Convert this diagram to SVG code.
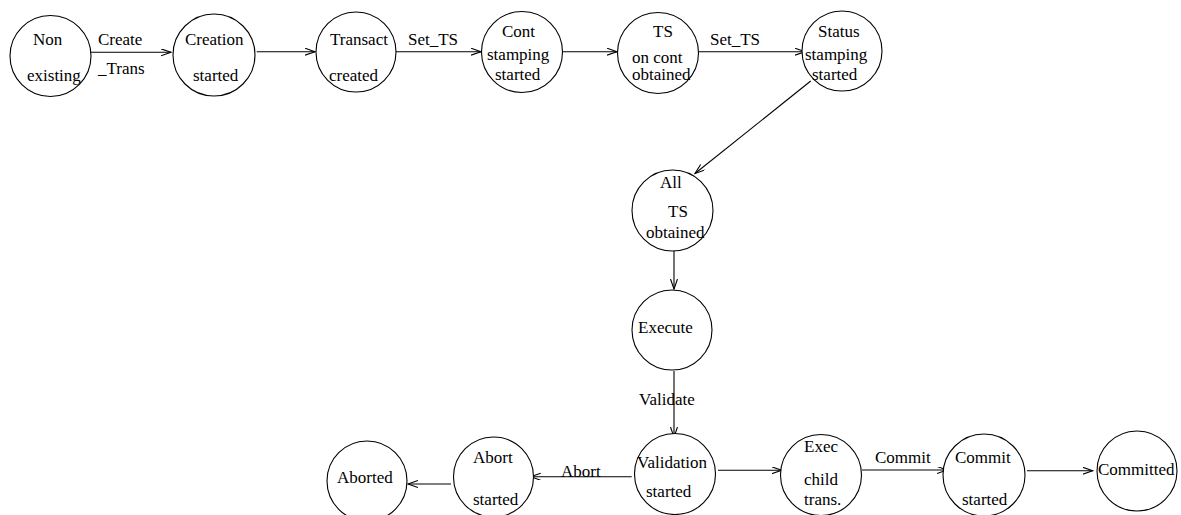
<svg xmlns="http://www.w3.org/2000/svg" width="1181" height="515" viewBox="0 0 1181 515">
<style>
.n{fill:#fff;stroke:#000;stroke-width:1.1}
.e{fill:none;stroke:#000;stroke-width:1.1}
text{font-family:"Liberation Serif","Times New Roman",serif;font-size:17px;fill:#000}
</style>
<defs>
<marker id="ah" markerWidth="12" markerHeight="9" refX="10" refY="3.5" orient="auto" markerUnits="userSpaceOnUse">
<path d="M0,0 L10,3.5 L0,7" fill="none" stroke="#000" stroke-width="1.1"/>
</marker>
</defs>
<rect width="1181" height="515" fill="#fff"/>
<g id="connectors">
<path class="e" d="M90.7,52.3 L171,52.3" marker-end="url(#ah)"/>
<path class="e" d="M256.7,51.7 L315,51.7" marker-end="url(#ah)"/>
<path class="e" d="M396,51.7 L481,51.7" marker-end="url(#ah)"/>
<path class="e" d="M561,51.7 L617,51.7" marker-end="url(#ah)"/>
<path class="e" d="M699,51.7 L805,51.7" marker-end="url(#ah)"/>
<path class="e" d="M810.7,81 L695,173.5" marker-end="url(#ah)"/>
<path class="e" d="M674,250.5 L674,289" marker-end="url(#ah)"/>
<path class="e" d="M674,371 L674,437" marker-end="url(#ah)"/>
<path class="e" d="M631.7,476.7 L530.7,476.7" marker-end="url(#ah)"/>
<path class="e" d="M451,484 L408,484" marker-end="url(#ah)"/>
<path class="e" d="M718,470.3 L781.7,470.3" marker-end="url(#ah)"/>
<path class="e" d="M862,470 L947,470" marker-end="url(#ah)"/>
<path class="e" d="M1027,470.7 L1092.7,470.7" marker-end="url(#ah)"/>
<text x="98" y="45">Create</text>
<text x="98" y="74">_Trans</text>
<text x="408" y="45">Set_TS</text>
<text x="710" y="45">Set_TS</text>
<text x="639" y="405">Validate</text>
<text x="561" y="477">Abort</text>
<text x="875" y="463">Commit</text>
</g>
<g id="non-existing"><circle class="n" cx="50.5" cy="56" r="40.5"/><text x="33" y="45">Non</text><text x="27" y="81">existing</text></g>
<g id="creation-started"><circle class="n" cx="214" cy="55" r="41"/><text x="185" y="45">Creation</text><text x="193" y="81">started</text></g>
<g id="transact-created"><circle class="n" cx="356" cy="52" r="40"/><text x="330" y="45">Transact</text><text x="329" y="81">created</text></g>
<g id="cont-stamping-started"><circle class="n" cx="522" cy="52" r="40.5"/><text x="502" y="37">Cont</text><text x="487" y="60">stamping</text><text x="495" y="80">started</text></g>
<g id="ts-on-cont-obtained"><circle class="n" cx="658" cy="53" r="40.5"/><text x="653" y="37">TS</text><text x="632" y="63">on cont</text><text x="632" y="80">obtained</text></g>
<g id="status-stamping-started"><circle class="n" cx="842" cy="51" r="40"/><text x="818" y="37">Status</text><text x="805" y="60">stamping</text><text x="812" y="80">started</text></g>
<g id="all-ts-obtained"><circle class="n" cx="672.5" cy="210.5" r="40.5"/><text x="660" y="188">All</text><text x="668" y="217">TS</text><text x="646" y="238">obtained</text></g>
<g id="execute"><circle class="n" cx="672" cy="330" r="40"/><text x="638" y="333">Execute</text></g>
<g id="validation-started"><circle class="n" cx="675" cy="474" r="40.5"/><text x="637" y="468">Validation</text><text x="646" y="497">started</text></g>
<g id="abort-started"><circle class="n" cx="493.5" cy="477" r="40"/><text x="473" y="463">Abort</text><text x="473" y="505">started</text></g>
<g id="aborted"><circle class="n" cx="367" cy="481" r="40"/><text x="337" y="483">Aborted</text></g>
<g id="exec-child-trans"><circle class="n" cx="821" cy="475" r="40.5"/><text x="804" y="452">Exec</text><text x="804" y="485">child</text><text x="804" y="505">trans.</text></g>
<g id="commit-started"><circle class="n" cx="984" cy="475" r="41"/><text x="955" y="463">Commit</text><text x="962" y="505">started</text></g>
<g id="committed"><circle class="n" cx="1137" cy="471" r="40"/><text x="1098" y="475">Committed</text></g>
</svg>
